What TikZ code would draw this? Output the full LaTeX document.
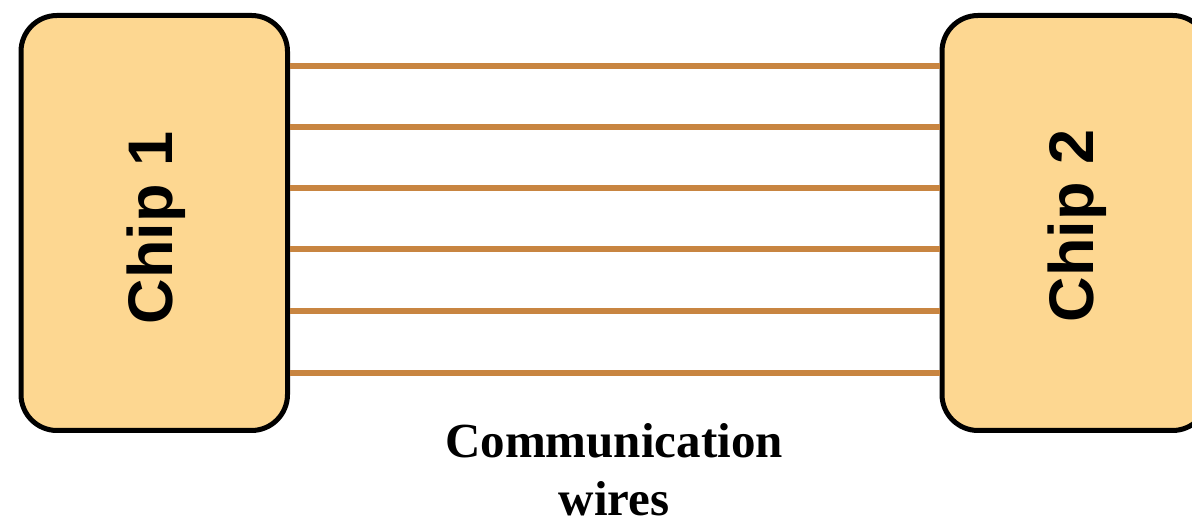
\documentclass[tikz,border=0pt]{standalone}
\usepackage{fontspec}
\setmainfont{Liberation Serif}
\setsansfont{Liberation Sans}
\definecolor{chipfill}{RGB}{253,215,145}
\definecolor{wire}{RGB}{200,133,65}
\begin{document}
\begin{tikzpicture}[x=1pt,y=1pt,
  chipbox/.style={draw=black, line width=5pt, fill=chipfill, rounded corners=36pt,
    minimum width=266.5pt, minimum height=415pt, inner sep=0pt},
  chiplabel/.style={rotate=90, font=\sffamily\bfseries\fontsize{63}{63}\selectfont, inner sep=0pt},
  wireline/.style={draw=wire, line width=6.5pt},
  caption/.style={font=\rmfamily\bfseries\fontsize{49}{58}\selectfont, align=center, inner sep=0pt}]
\useasboundingbox (0,0) rectangle (1192,529);
\clip (0,0) rectangle (1192,529);
\node[chipbox] (chip1) at (154.25,306) {};
\node[chipbox] (chip2) at (1075.25,306) {};
\node[chiplabel] (lab1) at ([xshift=2pt,yshift=-5pt]chip1.center) {Chip 1};
\node[chiplabel] (lab2) at ([xshift=2pt,yshift=-3pt]chip2.center) {Chip 2};
\foreach \y [count=\i] in {463,402,341,280,218,156}{
  \coordinate (w\i) at (0,\y);
  \draw[wireline] (chip1.east |- w\i) -- (chip2.west |- w\i);
}
\node[caption, anchor=base] (cap) at (614,13) {Communication\\wires};
\end{tikzpicture}
\end{document}
